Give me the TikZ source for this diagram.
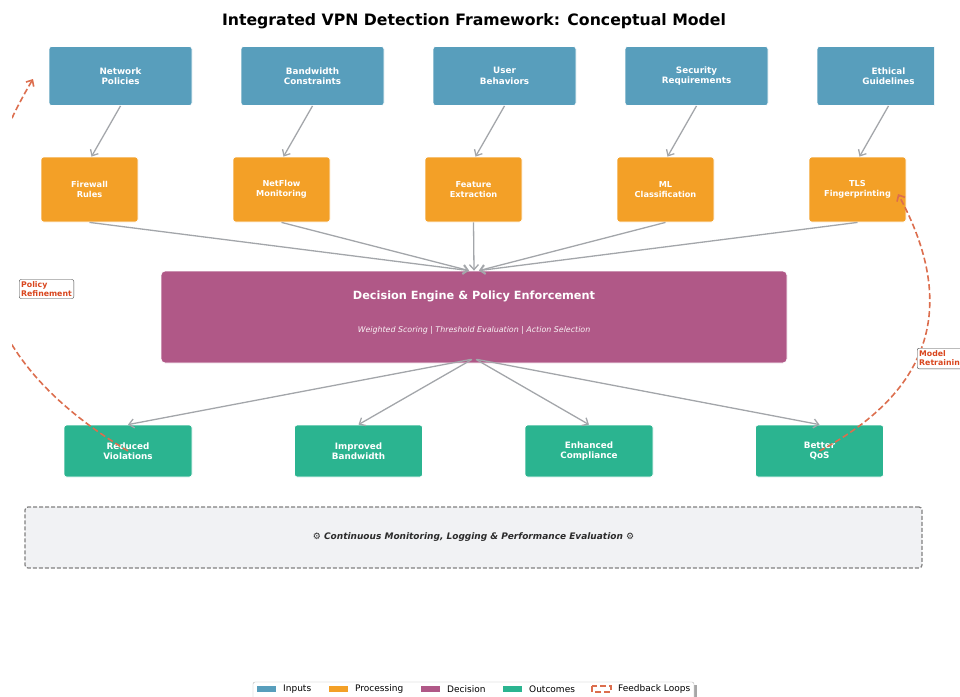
\documentclass[tikz,border=0pt]{standalone}
\usepackage{fontspec}
\setmainfont{DejaVu Sans}
\usetikzlibrary{arrows.meta}
\definecolor{inputblue}{HTML}{589EBC}
\definecolor{procorange}{HTML}{F3A027}
\definecolor{decpurple}{HTML}{B05887}
\definecolor{outgreen}{HTML}{2BB490}
\definecolor{flowgray}{HTML}{A3A6AA}
\definecolor{loopred}{HTML}{DC6E4E}
\definecolor{looptext}{HTML}{D9461E}
\definecolor{monfill}{HTML}{F1F2F4}
\definecolor{montext}{HTML}{2B2B2B}
\begin{document}
\begin{tikzpicture}[x=1pt, y=-1pt,
    box/.style={draw=white, line width=0.8pt, rounded corners=2.5pt, inner sep=0pt,
        text=white, align=center, font=\bfseries\fontsize{8.8}{10.5}\selectfont},
    inbox/.style={box, fill=inputblue, minimum width=143pt, minimum height=59pt},
    procbox/.style={box, fill=procorange, minimum width=97pt, minimum height=65pt,
        font=\bfseries\fontsize{8.2}{9.8}\selectfont},
    outbox/.style={box, fill=outgreen, minimum width=128pt, minimum height=52pt},
    flow/.style={draw=flowgray, line width=1.3pt, -{Straight Barb[length=5pt,width=9pt]}},
    loop/.style={draw=loopred, line width=1.6pt, dash pattern=on 6pt off 3pt,
        -{Straight Barb[length=5pt,width=9pt]}},
    looplabel/.style={draw=black!75, fill=white, rounded corners=2pt, anchor=west,
        text=looptext, align=left, inner sep=2pt, font=\bfseries\fontsize{7.8}{9}\selectfont}]
\useasboundingbox (0,0) rectangle (960,696);

\node[font=\bfseries\fontsize{15.7}{18}\selectfont] (title) at (474,21)
    {Integrated VPN Detection Framework: Conceptual Model};

\begin{scope}
\clip (12,0) rectangle (934,696);

% inputs
\foreach \x/\n/\t in {120.5/inp1/{Network\\Policies}, 312.5/inp2/{Bandwidth\\Constraints},
        504.5/inp3/{User\\Behaviors}, 696.5/inp4/{Security\\Requirements},
        888.5/inp5/{Ethical\\Guidelines}}
    \node[inbox] (\n) at (\x,76) {\t};

% processing
\foreach \x/\n/\t in {89.5/proc1/{Firewall\\Rules}, 281.5/proc2/{NetFlow\\Monitoring},
        473.5/proc3/{Feature\\Extraction}, 665.5/proc4/{ML\\Classification},
        857.5/proc5/{TLS\\Fingerprinting}}
    \node[procbox] (\n) at (\x,189.5) {\t};

\foreach \i in {1,...,5}
    \draw[flow] (inp\i.south) -- ([xshift=2pt]proc\i.north);

% decision
\node[fill=decpurple, draw=white, line width=0.8pt, rounded corners=4pt,
    minimum width=626pt, minimum height=92pt] (dec) at (474,317) {};
\node[text=white, font=\bfseries\fontsize{11.3}{13}\selectfont] (dectitle) at (474,296)
    {Decision Engine \& Policy Enforcement};
\node[text=white!92!decpurple, font=\itshape\fontsize{7.9}{9}\selectfont] (decsub) at (474,330)
    {Weighted Scoring | Threshold Evaluation | Action Selection};

\draw[flow] (proc1.south) -- ([xshift=-5pt]dec.north);
\draw[flow] (proc2.south) -- ([xshift=-5pt]dec.north);
\draw[flow] (proc3.south) -- (dec.north);
\draw[flow] (proc4.south) -- ([xshift=5pt]dec.north);
\draw[flow] (proc5.south) -- ([xshift=5pt]dec.north);

% outcomes
\foreach \x/\n/\t in {128/out1/{Reduced\\Violations}, 358.5/out2/{Improved\\Bandwidth},
        589/out3/{Enhanced\\Compliance}, 819.5/out4/{Better\\QoS}}
    \node[outbox] (\n) at (\x,451) {\t};

\foreach \i/\s in {1/-3, 2/-2, 3/2, 4/3}
    \draw[flow] ([xshift=\s pt, yshift=4pt]dec.south) -- (out\i.north);

% monitoring
\node[draw=black!50, line width=1.2pt, dash pattern=on 4pt off 2pt, fill=monfill,
    rounded corners=3pt, minimum width=897pt, minimum height=61pt,
    text=montext, font=\bfseries\itshape\fontsize{9}{10}\selectfont] (mon) at (473.5,537.5)
    {{\mdseries\upshape ⚙} Continuous Monitoring, Logging \& Performance Evaluation {\mdseries\upshape ⚙}};

% feedback loops
\coordinate (prtip) at (33,79);
\coordinate (mrtip) at (898,194);
\draw[loop] (out1.center) .. controls (-27.3,358) and (-59,234.3) .. (prtip);
\draw[loop] (out4.center) .. controls (932.7,390) and (958,304.7) .. (mrtip);
\end{scope}

\node[looplabel] (prlab) at (19,289) {Policy\\Refinement};
\node[looplabel] (mrlab) at (917,358.5) {Model\\Retraining};

% legend
\fill[black!35] (256,685) rectangle (697,705);
\filldraw[draw=black!30, fill=white, rounded corners=2pt] (253,682) rectangle (694,702);
\fill[inputblue] (257,686) rectangle (276,692);
\node[anchor=west, inner sep=0pt, font=\fontsize{9}{10}\selectfont] (lgin) at (283,689) {Inputs};
\fill[procorange] (329,686) rectangle (348,692);
\node[anchor=west, inner sep=0pt, font=\fontsize{9}{10}\selectfont] (lgproc) at (355,689) {Processing};
\fill[decpurple] (421,686) rectangle (440,692);
\node[anchor=west, inner sep=0pt, font=\fontsize{9}{10}\selectfont] (lgdec) at (447,689) {Decision};
\fill[outgreen] (503,686) rectangle (522,692);
\node[anchor=west, inner sep=0pt, font=\fontsize{9}{10}\selectfont] (lgout) at (529,689) {Outcomes};
\draw[loopred, line width=1.6pt, dash pattern=on 6pt off 3pt] (592,686) rectangle (611,692);
\node[anchor=west, inner sep=0pt, font=\fontsize{9}{10}\selectfont] (lgloop) at (618,689) {Feedback Loops};
\end{tikzpicture}
\end{document}
